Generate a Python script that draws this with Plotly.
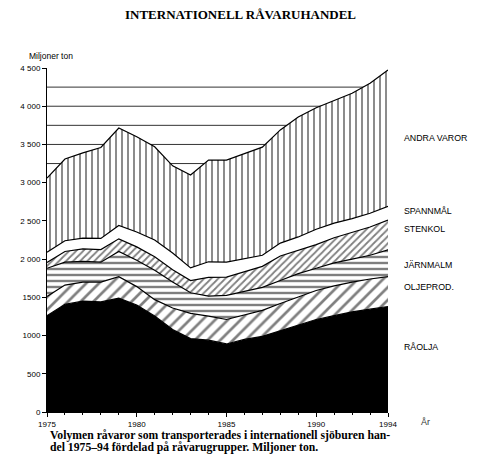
import plotly.graph_objects as go

# Årtal och volymer per råvarugrupp (miljoner ton)
years = list(range(1975, 1995))

raolja = [1260, 1410, 1450, 1440, 1490, 1400, 1255, 1080, 960, 940,
          890, 950, 990, 1060, 1130, 1210, 1260, 1310, 1345, 1380]
oljeprod = [250, 250, 250, 260, 280, 240, 215, 280, 330, 315,
            320, 320, 340, 360, 370, 380, 390, 390, 395, 390]
jarnmalm = [370, 300, 270, 260, 330, 345, 385, 340, 270, 260,
            315, 310, 300, 300, 310, 290, 300, 300, 310, 350]
stenkol = [75, 140, 165, 165, 165, 175, 175, 160, 160, 245,
           240, 260, 275, 320, 300, 310, 330, 350, 370, 390]
spannmal = [135, 140, 140, 145, 175, 195, 220, 220, 165, 205,
            195, 160, 145, 170, 180, 200, 190, 180, 180, 180]
andra = [970, 1070, 1115, 1190, 1275, 1245, 1220, 1140, 1215, 1330,
         1335, 1385, 1415, 1480, 1570, 1590, 1610, 1640, 1700, 1785]

# etiketter till höger och deras höjd (miljoner ton)
labels = ['ANDRA VAROR', 'SPANNMÅL', 'STENKOL', 'JÄRNMALM', 'OLJEPROD.', 'RÅOLJA']
label_y = [3590, 2630, 2390, 1920, 1630, 850]

ytick_vals = [0, 500, 1000, 1500, 2000, 2500, 3000, 3500, 4000, 4500]
ytick_text = ['0', '500', '1000', '1500', '2 000', '2 500', '3 000', '3 500', '4 000', '4 500']
xtick_vals = [1975, 1980, 1985, 1990, 1994]

sans = 'Liberation Sans'
serif = 'Liberation Serif'

fig = go.Figure()

layers = [
    (raolja, dict(fillcolor='black'), None),
    (oljeprod, dict(), dict(shape='/', fgcolor='black', bgcolor='white', size=9, solidity=0.3)),
    (jarnmalm, dict(), dict(shape='-', fgcolor='black', bgcolor='white', size=6, solidity=0.4)),
    (stenkol, dict(), dict(shape='/', fgcolor='black', bgcolor='white', size=5, solidity=0.35)),
    (spannmal, dict(fillcolor='white'), None),
    (andra, dict(), dict(shape='|', fgcolor='black', bgcolor='white', size=6, solidity=0.3)),
]
for vals, extra, patt in layers:
    kw = dict(x=years, y=vals, mode='lines', stackgroup='one',
              line=dict(color='black', width=1.2), hoverinfo='skip', showlegend=False)
    kw.update(extra)
    if patt:
        kw['fillpattern'] = patt
        kw['fillcolor'] = 'white'
    fig.add_trace(go.Scatter(**kw))

# tunna horisontella linjer bakom ytorna
for lvl in range(250, 4500, 250):
    fig.add_shape(type='line', xref='x', yref='y', x0=years[0], x1=years[-1],
                  y0=lvl, y1=lvl, line=dict(color='#333', width=1), layer='below')

# sidan har 8 px marginal i webbläsaren, därför något mindre figur
fig.update_layout(
    width=475, height=461,
    margin=dict(l=37, r=95, t=60, b=57),
    paper_bgcolor='white', plot_bgcolor='white',
    xaxis=dict(range=[1975, 1994], tickvals=xtick_vals, showgrid=False, zeroline=False,
               showline=True, linecolor='black', linewidth=1, ticks='outside', ticklen=4,
               tickcolor='black', tickfont=dict(family=sans, size=8, color='black'),
               minor=dict(dtick=1, ticks='outside', ticklen=2, tickcolor='black')),
    yaxis=dict(range=[0, 4500], tickvals=ytick_vals, ticktext=ytick_text, showgrid=False,
               zeroline=False, showline=True, linecolor='black', linewidth=1,
               ticks='outside', ticklen=4, tickcolor='black',
               tickfont=dict(family=sans, size=8, color='black')),
    yaxis2=dict(range=[0, 4500], overlaying='y', side='right', showgrid=False,
                zeroline=False, showline=True, linecolor='black', linewidth=1,
                ticks='outside', ticklen=5, tickcolor='black', dtick=250,
                showticklabels=False),
)

ann = [
    dict(text='<b>INTERNATIONELL RÅVARUHANDEL</b>', xref='paper', yref='paper',
         x=0.5685, y=1.155, xanchor='center', yanchor='middle',
         font=dict(family=serif, size=13, color='black')),
    dict(text='Miljoner ton', xref='paper', yref='paper', x=-0.058, y=1.035,
         xanchor='left', yanchor='middle', font=dict(family=sans, size=8.5, color='black')),
    dict(text='År', xref='paper', yref='paper', x=1.09, y=-0.028,
         xanchor='left', yanchor='middle', font=dict(family=sans, size=9, color='#333')),
    dict(text='<b>Volymen råvaror som transporterades i internationell sjöburen han-</b>',
         xref='paper', yref='paper', x=0.003, y=-0.068, xanchor='left', yanchor='middle',
         font=dict(family=serif, size=11.7, color='black')),
    dict(text='<b>del 1975–94 fördelad på råvarugrupper. Miljoner ton.</b>',
         xref='paper', yref='paper', x=0.003, y=-0.104, xanchor='left', yanchor='middle',
         font=dict(family=serif, size=11.7, color='black')),
]
for txt, ly in zip(labels, label_y):
    ann.append(dict(text=txt, xref='paper', yref='y', x=1.041, y=ly, xanchor='left',
                    yanchor='middle',
                    font=dict(family=sans, size=8.8, color='black')))
for a in ann:
    a['showarrow'] = False
fig.update_layout(annotations=ann)

fig.write_html("out.html")
